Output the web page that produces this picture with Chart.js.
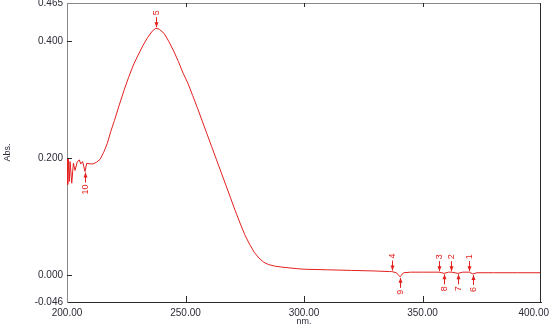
<!DOCTYPE html>
<html>
<head>
<meta charset="utf-8">
<script src="https://cdn.jsdelivr.net/npm/chart.js@4.4.0/dist/chart.umd.min.js"></script>
<style>
  html, body { margin: 0; padding: 0; background: #fff; }
  #wrap { width: 551px; height: 327px; }
</style>
</head>
<body>
<div id="wrap"><canvas id="spectrum" width="551" height="327"></canvas></div>
<script>
// UV spectrum — absorbance vs wavelength, with picked peaks / valleys

const wavelengthNm = [
  200.0, 200.3, 200.6, 201.0, 201.3, 202.0, 202.7, 203.4, 204.3, 205.2,
  205.8, 206.6, 207.6, 208.3, 210.0, 211.0, 212.5, 214.0, 215.5, 217.0,
  218.5, 220.0, 222.0, 224.0, 226.0, 228.0, 230.0, 232.0, 234.0, 236.0,
  237.5, 239.0, 241.0, 243.0, 245.0, 247.0, 249.0, 251.0, 253.0, 255.0,
  257.0, 259.0, 261.0, 263.0, 265.0, 267.0, 269.0, 271.0, 273.0, 275.0,
  277.0, 279.0, 281.0, 283.0, 285.0, 288.0, 292.0, 297.0, 300.0, 310.0,
  320.0, 330.0, 336.0, 337.0, 339.0, 340.5, 342.0, 345.0, 350.0, 355.0,
  357.0, 359.1, 361.0, 362.2, 365.0, 367.0, 369.8, 371.2, 373.0, 380.0,
  390.0, 400.0,
];
const absorbance = [
  0.200, 0.155, 0.198, 0.160, 0.194, 0.157, 0.191, 0.179, 0.193, 0.197,
  0.190, 0.194, 0.177, 0.191, 0.190, 0.190, 0.193, 0.198, 0.210, 0.225,
  0.246, 0.264, 0.290, 0.315, 0.338, 0.359, 0.376, 0.392, 0.406, 0.417,
  0.422, 0.420, 0.413, 0.399, 0.383, 0.365, 0.345, 0.328, 0.307, 0.286,
  0.264, 0.242, 0.220, 0.198, 0.176, 0.154, 0.132, 0.110, 0.089, 0.069,
  0.053, 0.039, 0.029, 0.022, 0.018, 0.015, 0.013, 0.011, 0.010, 0.009,
  0.008, 0.007, 0.006, 0.006, 0.004, -0.003, 0.004, 0.005, 0.005, 0.005,
  0.005, 0.003, 0.005, 0.005, 0.003, 0.005, 0.005, 0.002, 0.004, 0.004,
  0.004, 0.004,
];

// picked peaks (arrow down) and valleys (arrow up)
const peakNm      = [369.8, 362.2, 357.0, 337.0, 237.5];
const peakAbs     = [0.005, 0.005, 0.005, 0.006, 0.422];
const peakLabels  = ["1", "2", "3", "4", "5"];
const valleyNm     = [371.2, 365.0, 359.1, 340.5, 207.6];
const valleyAbs    = [0.002, 0.003, 0.003, -0.003, 0.177];
const valleyLabels = ["6", "7", "8", "9", "10"];

const xTicks = [200, 250, 300, 350, 400];
const yTicks = [-0.046, 0.0, 0.2, 0.4, 0.465];

const COLORS = {
  trace:      "#e3201e",
  text:       "#2b2b38",
  frameLight: "#8a8a8a",
  frameDark:  "#2a2a2a",
};

const FONT = "'Liberation Sans', Arial, sans-serif";

// inward tick marks, top/right frame, x labels, peak-pick arrows
const frameAndMarkers = {
  id: "frameAndMarkers",
  afterDatasetsDraw(chart) {
    const { ctx, chartArea: a, scales: { x, y } } = chart;
    ctx.save();
    ctx.lineWidth = 1;

    ctx.strokeStyle = COLORS.frameLight;
    ctx.beginPath();
    ctx.moveTo(a.left, a.top + 0.5);
    ctx.lineTo(a.right, a.top + 0.5);
    ctx.stroke();

    ctx.strokeStyle = COLORS.frameDark;
    ctx.beginPath();
    ctx.moveTo(a.right - 0.5, a.top);
    ctx.lineTo(a.right - 0.5, a.bottom);
    ctx.stroke();

    // x ticks: up from bottom, down from top
    xTicks.slice(1, -1).forEach((v) => {
      const px = Math.round(x.getPixelForValue(v)) + 0.5;
      ctx.beginPath();
      ctx.moveTo(px, a.bottom);
      ctx.lineTo(px, a.bottom - 6);
      ctx.moveTo(px, a.top);
      ctx.lineTo(px, a.top + 4);
      ctx.stroke();
    });
    // y ticks: right from left axis
    yTicks.slice(1, -1).forEach((v) => {
      const py = Math.round(y.getPixelForValue(v)) + 0.5;
      ctx.beginPath();
      ctx.moveTo(a.left, py);
      ctx.lineTo(a.left + 5, py);
      ctx.stroke();
    });

    // x tick labels, last one pulled in so it stays on the canvas
    ctx.fillStyle = COLORS.text;
    ctx.font = `10px ${FONT}`;
    ctx.textBaseline = "top";
    ctx.textAlign = "left";
    xTicks.forEach((v) => {
      const txt = v.toFixed(2);
      const w = ctx.measureText(txt).width;
      let left = x.getPixelForValue(v) - w / 2;
      left = Math.min(left, chart.width - 2 - w);
      ctx.fillText(txt, left, a.bottom + 6);
    });

    ctx.strokeStyle = COLORS.trace;
    ctx.fillStyle = COLORS.trace;
    ctx.font = `9px ${FONT}`;
    ctx.textBaseline = "middle";

    const drawMark = (nm, ab, label, dir) => {
      const px = Math.round(x.getPixelForValue(nm)) + 0.5;
      const py = y.getPixelForValue(ab);
      const tip = py + dir * 1;
      const tail = py + dir * 11;
      ctx.beginPath();
      ctx.moveTo(px, tail);
      ctx.lineTo(px, tip);
      ctx.stroke();
      ctx.beginPath();
      ctx.moveTo(px - 2, tip + dir * 5);
      ctx.lineTo(px + 2, tip + dir * 5);
      ctx.lineTo(px, tip);
      ctx.closePath();
      ctx.fill();
      ctx.save();
      ctx.translate(px, py + dir * 13);
      ctx.rotate(-Math.PI / 2);
      ctx.textAlign = dir < 0 ? "left" : "right";
      ctx.fillText(label, 0, 0);
      ctx.restore();
    };

    peakNm.forEach((nm, i) => drawMark(nm, peakAbs[i], peakLabels[i], -1));
    valleyNm.forEach((nm, i) => drawMark(nm, valleyAbs[i], valleyLabels[i], 1));

    ctx.restore();
  },
};

const ctx = document.getElementById("spectrum").getContext("2d");

new Chart(ctx, {
  type: "line",
  data: {
    datasets: [
      {
        label: "Abs.",
        data: wavelengthNm.map((nm, i) => ({ x: nm, y: absorbance[i] })),
        borderColor: COLORS.trace,
        borderWidth: 1,
        pointRadius: 0,
        tension: 0,
        fill: false,
      },
    ],
  },
  options: {
    responsive: false,
    devicePixelRatio: 1,
    animation: false,
    layout: { padding: { top: 3, right: 10, left: 0, bottom: 0 } },
    plugins: {
      legend: { display: false },
      tooltip: { enabled: false },
    },
    scales: {
      x: {
        type: "linear",
        min: 200,
        max: 400,
        afterBuildTicks: (s) => { s.ticks = xTicks.map((v) => ({ value: v })); },
        afterFit: (s) => { s.height = 25; s.paddingLeft = 0; s.paddingRight = 0; },
        grid: { display: false, drawTicks: false },
        border: { display: true, color: COLORS.frameDark, width: 1 },
        ticks: { display: false },
        title: {
          display: true,
          text: "nm.",
          color: COLORS.text,
          font: { family: FONT, size: 9 },
          padding: { top: 0, bottom: 0 },
        },
      },
      y: {
        type: "linear",
        min: -0.046,
        max: 0.465,
        afterBuildTicks: (s) => { s.ticks = yTicks.map((v) => ({ value: v })); },
        afterFit: (s) => { s.width = 67; s.paddingTop = 0; s.paddingBottom = 0; },
        grid: { display: false, drawTicks: false },
        border: { display: true, color: COLORS.frameLight, width: 1 },
        ticks: {
          color: COLORS.text,
          font: { family: FONT, size: 10 },
          padding: 4,
          autoSkip: false,
          callback: (v) => Number(v).toFixed(3),
        },
        title: {
          display: true,
          text: "Abs.",
          color: COLORS.text,
          font: { family: FONT, size: 9 },
          padding: { top: 2, bottom: 0 },
        },
      },
    },
  },
  plugins: [frameAndMarkers],
});
</script>
</body>
</html>
